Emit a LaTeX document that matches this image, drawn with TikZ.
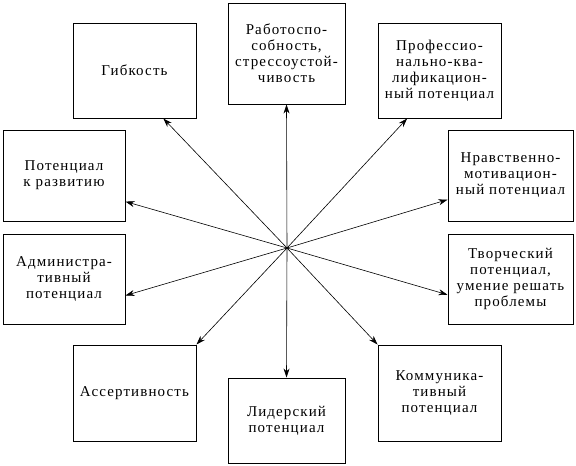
\documentclass[tikz,border=0pt]{standalone}
\usepackage{fontspec}
\setmainfont[LetterSpace=7.5]{Liberation Serif}
\usetikzlibrary{arrows.meta}

\begin{document}
\begin{tikzpicture}[->,>={Stealth[length=9pt,width=6pt]},x=1pt,y=-1pt,
            line width=0.6pt]
        \tikzstyle{block}=[draw=black,line width=1pt,inner sep=0pt,align=center,
            text=black,font=\fontsize{15}{16}\selectfont]

        \useasboundingbox (0,0) rectangle (576,466);

        \coordinate (c) at (287,248);

        \node[block,minimum width=117pt,minimum height=101pt] (rab) at (286.5,53.5)
            {Работоспо-\\собность,\\стрессоустой-\\чивость};
        \node[block,minimum width=123pt,minimum height=95pt] (gib) at (134.5,70.5)
            {Гибкость};
        \node[block,minimum width=123pt,minimum height=95pt] (prof) at (439.5,70.5)
            {Профессио-\\нально-ква-\\лификацион-\\ный потенциал};
        \node[block,minimum width=122pt,minimum height=91pt] (pot) at (64,175.5)
            {Потенциал\\к развитию};
        \node[block,minimum width=125pt,minimum height=91pt] (nrav) at (510.5,175.5)
            {Нравственно-\\мотивацион-\\ный потенциал};
        \node[block,minimum width=122pt,minimum height=90pt] (adm) at (64,279)
            {Администра-\\тивный\\потенциал};
        \node[block,minimum width=125pt,minimum height=90pt] (tvor) at (510.5,279)
            {Творческий\\потенциал,\\умение решать\\проблемы};
        \node[block,minimum width=123pt,minimum height=96pt] (as) at (134.5,393)
            {Ассертивность};
        \node[block,minimum width=123pt,minimum height=96pt] (kom) at (439.5,393)
            {Коммуника-\\тивный\\потенциал};
        \node[block,minimum width=117pt,minimum height=85pt] (lid) at (286.5,420.5)
            {Лидерский\\потенциал};

        \draw (c) -- (rab.south);
        \draw (c) -- (gib.-59);
        \draw (c) -- (prof.-124);
        \draw (c) -- (pot.-23);
        \draw (c) -- (nrav.201);
        \draw (c) -- (adm.-15);
        \draw (c) -- (tvor.194);
        \draw (c) -- (as.north east);
        \draw (c) -- (kom.north west);
        \draw (c) -- (lid.north);
    \end{tikzpicture}
\end{document}
